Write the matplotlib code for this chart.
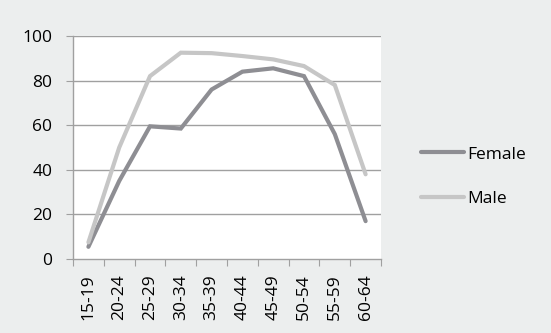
import matplotlib
matplotlib.use("Agg")
import matplotlib.pyplot as plt
import numpy as np

categories = ["15-19", "20-24", "25-29", "30-34", "35-39", "40-44", "45-49", "50-54", "55-59", "60-64"]
female = [5.5, 35, 59.5, 58.5, 76, 84, 85.5, 82, 56, 17]
male = [7.5, 50, 82, 92.5, 92.3, 91, 89.5, 86.5, 78, 38]
yticks = [0, 20, 40, 60, 80, 100]

plt.rcParams['font.family'] = ['Open Sans', 'DejaVu Sans']
FS = 12.5

fig = plt.figure(figsize=(5.51, 3.33), dpi=100)
fig.patch.set_facecolor('#eceeee')
ax = fig.add_axes([0.1325, 0.222, 0.559, 0.670])
ax.set_facecolor('white')

x = np.arange(len(categories))
ax.plot(x, female, color='#8e8e93', lw=3.0, label='Female', solid_capstyle='round', solid_joinstyle='miter')
ax.plot(x, male, color='#c6c6c6', lw=3.0, label='Male', solid_capstyle='round', solid_joinstyle='miter')

ax.set_xlim(-0.5, len(categories) - 0.5)
ax.set_ylim(0, 100)
ax.set_yticks(yticks)
ax.set_yticklabels([str(v) for v in yticks], fontsize=FS)
for v in yticks[1:]:
    ax.axhline(v, color='#a0a0a0', lw=1.0, zorder=0)

ax.set_xticks(np.arange(len(categories) + 1) - 0.5)
ax.set_xticklabels([])
ax.set_xticks(x, minor=True)
ax.set_xticklabels(categories, minor=True, rotation=90, fontsize=FS)
ax.tick_params(axis='x', which='minor', length=0, pad=11)
ax.tick_params(axis='x', which='major', length=5, color='#a0a0a0', direction='out')
ax.tick_params(axis='y', length=5, color='#a0a0a0', direction='out', pad=10)

for s in ['top', 'right']:
    ax.spines[s].set_visible(False)
for s in ['left', 'bottom']:
    ax.spines[s].set_color('#a0a0a0')
    ax.spines[s].set_linewidth(1.0)

leg = fig.legend(loc='center left', bbox_to_anchor=(0.735, 0.469), frameon=False,
                 fontsize=FS, handlelength=2.5, handletextpad=0.2, labelspacing=1.65)

fig.savefig('out.png', dpi=100, facecolor=fig.get_facecolor())
